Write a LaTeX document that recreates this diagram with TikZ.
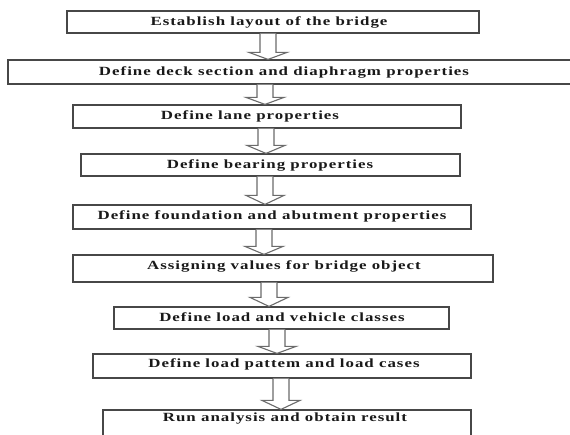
\documentclass[tikz,border=0pt]{standalone}
\usepackage{fontspec}
\setmainfont{Liberation Serif}[BoldFont={* Bold}]
\newfontfamily\boxfont{Liberation Serif Bold}[FakeStretch=1.35,LetterSpace=8]
\usetikzlibrary{calc}
\tikzset{
  stepbox/.style={draw=black!72, line width=1.2pt, fill=white, inner sep=0pt},
  steptext/.style={font=\boxfont\fontsize{12.5}{14}\selectfont, text=black!90, inner sep=0pt},
  harrow/.style={draw=black!58, line width=1.1pt, fill=white, line join=miter}
}
% #1 centre x, #2 upper node, #3 lower node, #4 head depth
\newcommand{\hollowarrow}[4]{%
  \draw[harrow] ({#1-8},0 |- #2.south) -- ($({#1-8},0 |- #3.north)+(0,-#4)$)
    -- ($({#1-19},0 |- #3.north)+(0,-#4)$) -- ({#1},0 |- #3.north)
    -- ($({#1+19},0 |- #3.north)+(0,-#4)$) -- ($({#1+8},0 |- #3.north)+(0,-#4)$)
    -- ({#1+8},0 |- #2.south);}
\begin{document}
\begin{tikzpicture}[x=1pt,y=-1pt]
\useasboundingbox (0,0) rectangle (570,434);
\clip (0,0) rectangle (570,434);
\fill[white] (0,0) rectangle (570,434);
% boxes
\node[stepbox, minimum width=412pt, minimum height=22pt] (b1) at (273,22) {};
\node[stepbox, minimum width=600pt, minimum height=24pt] (b2) at (308,72) {};
\node[stepbox, minimum width=388pt, minimum height=23pt] (b3) at (267,116.5) {};
\node[stepbox, minimum width=379pt, minimum height=22pt] (b4) at (270.5,165) {};
\node[stepbox, minimum width=398pt, minimum height=24pt] (b5) at (272,217) {};
\node[stepbox, minimum width=420pt, minimum height=27pt] (b6) at (283,268.5) {};
\node[stepbox, minimum width=335pt, minimum height=22pt] (b7) at (281.5,318) {};
\node[stepbox, minimum width=378pt, minimum height=24pt] (b8) at (282,366) {};
\node[stepbox, minimum width=368pt, minimum height=40pt] (b9) at (287,430) {};
% texts
\node[steptext] (t1) at (269,22) {Establish layout of the bridge};
\node[steptext] (t2) at (284,72) {Define deck section and diaphragm properties};
\node[steptext] (t3) at (250,116) {Define lane properties};
\node[steptext] (t4) at (270,165) {Define bearing properties};
\node[steptext] (t5) at (272,216) {Define foundation and abutment properties};
\node[steptext] (t6) at (284,266) {Assigning values for bridge object};
\node[steptext] (t7) at (282,317) {Define load and vehicle classes};
\node[steptext] (t8) at (284,364) {Define load pattem and load cases};
\node[steptext] (t9) at (285,419) {Run analysis and obtain result};
% arrows
\hollowarrow{268}{b1}{b2}{7}
\hollowarrow{265}{b2}{b3}{7}
\hollowarrow{266}{b3}{b4}{8}
\hollowarrow{265}{b4}{b5}{9}
\hollowarrow{264}{b5}{b6}{8}
\hollowarrow{269}{b6}{b7}{9}
\hollowarrow{277}{b7}{b8}{7}
\hollowarrow{281}{b8}{b9}{9}
\end{tikzpicture}
\end{document}
